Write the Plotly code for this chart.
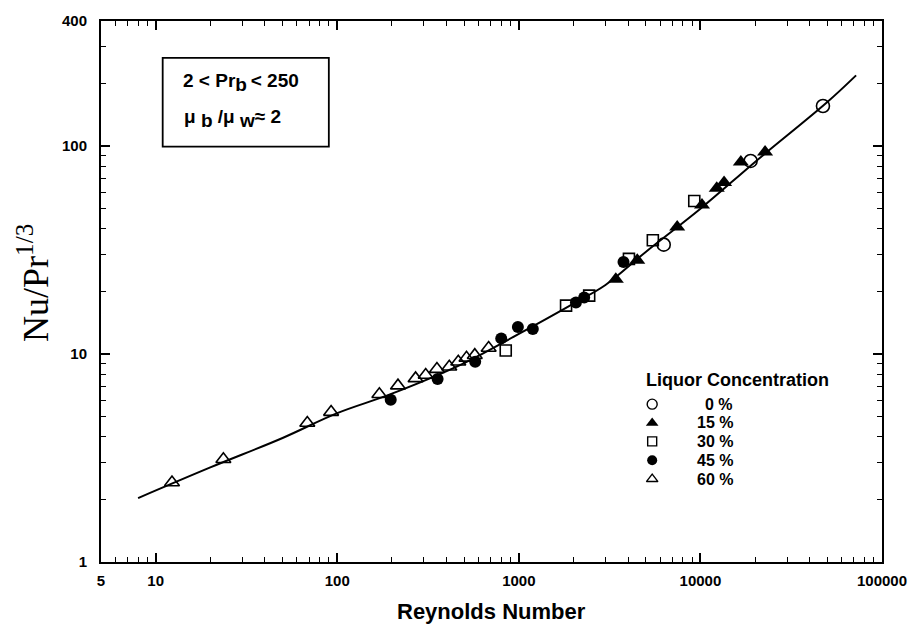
import math
import plotly.graph_objects as go

# Reynolds number and Nu/Pr^(1/3) for each liquor concentration
re_0 = [6280, 18900, 47300]
nu_0 = [33.6, 84.9, 156]

re_15 = [3420, 4490, 7450, 10200, 12300, 13500, 16700, 22700]
nu_15 = [22.9, 28.3, 40.8, 52.2, 62.7, 66.9, 84.0, 93.7]

re_30 = [847, 1820, 2440, 4040, 5470, 9250]
nu_30 = [10.4, 17.1, 19.1, 28.7, 35.3, 54.5]

re_45 = [197, 357, 575, 800, 988, 1194, 2063, 2290, 3770]
nu_45 = [6.03, 7.59, 9.18, 11.9, 13.5, 13.2, 17.7, 18.7, 27.7]

re_60 = [12.3, 23.6, 68.4, 92.5, 170.6, 216, 270, 307, 354, 414, 464, 515, 572, 682]
nu_60 = [2.41, 3.12, 4.66, 5.26, 6.41, 7.05, 7.64, 7.93, 8.47, 8.69, 9.18, 9.59, 9.88, 10.7]

# Correlation curve through the data
re_fit = [8, 20, 50, 100, 200, 500, 1000, 2000, 3000, 5000, 10000, 20000, 50000, 72000]
nu_fit = [2.03, 2.85, 3.95, 5.2, 6.45, 9.05, 12.5, 17.5, 21.5, 31, 50, 84, 163, 219]

concentrations = ["0 %", "15 %", "30 %", "45 %", "60 %"]

x_tick_vals = [5, 10, 100, 1000, 10000, 100000]
x_tick_text = ["5", "10", "100", "1000", "10000", "100000"]
y_tick_vals = [1, 10, 100, 400]
y_tick_text = ["1", "10", "100", "400"]

SANS = "Liberation Sans"
SERIF = "Liberation Serif"

x_minor = [m * 10 ** d for d in range(0, 5) for m in range(2, 10) if 5 < m * 10 ** d < 100000]
y_minor = [m * 10 ** d for d in range(0, 3) for m in range(2, 10) if m * 10 ** d < 400]

# plot area in pixels, used to place the key and the note box
L, R, T, B = 101, 886, 16, 562


def px_x(p):
    return (p - L) / (R - L)


def px_y(p):
    return (B - p) / (B - T)


fig = go.Figure()

fig.add_trace(go.Scatter(
    x=re_fit, y=nu_fit, mode="lines",
    line=dict(color="black", width=2, shape="spline", smoothing=1.0),
    showlegend=False, hoverinfo="skip",
))

styles = [
    ("circle-open", 13, 1.6, 10),
    ("triangle-up", 14, 0, 11),
    ("square-open", 11, 1.6, 9),
    ("circle", 12, 0, 10),
    ("triangle-up-open", 13, 1.6, 10),
]
data = [(re_0, nu_0), (re_15, nu_15), (re_30, nu_30), (re_45, nu_45), (re_60, nu_60)]

for (xs, ys), (sym, size, lw, _), name in zip(data, styles, concentrations):
    fig.add_trace(go.Scatter(
        x=xs, y=ys, mode="markers", name=name, showlegend=False,
        marker=dict(symbol=sym, size=size, color="black",
                    line=dict(color="black", width=lw)),
    ))

# Key: symbols on an overlay axis spanning the plot area, labels as annotations
key_rows = [402.7, 421.7, 440.3, 459.3, 478.3]
key_font = dict(family=SANS, size=16, color="black", weight="bold")
for (sym, _, lw, ksize), name, row in zip(styles, concentrations, key_rows):
    fig.add_trace(go.Scatter(
        x=[px_x(655)], y=[px_y(row)], xaxis="x2", yaxis="y2",
        mode="markers", showlegend=False, hoverinfo="skip",
        marker=dict(symbol=sym, size=ksize, color="black",
                    line=dict(color="black", width=min(lw, 1.4))),
    ))
    fig.add_annotation(
        xref="paper", yref="paper", x=px_x(738), y=px_y(row),
        xanchor="right", yanchor="middle", text=name,
        showarrow=False, font=key_font,
    )
fig.add_annotation(
    xref="paper", yref="paper", x=px_x(647), y=px_y(378),
    xanchor="left", yanchor="middle", text="Liquor Concentration",
    showarrow=False, font=dict(family=SANS, size=18, color="black", weight="bold"),
)

axis_common = dict(
    type="log", showline=True, linewidth=2, linecolor="black",
    mirror="allticks", ticks="inside", tickwidth=1.5, tickcolor="black",
    showgrid=False, zeroline=False,
    tickfont=dict(family=SANS, size=15, color="black", weight="bold"),
)

fig.update_xaxes(
    range=[math.log10(5), 5], tickmode="array",
    tickvals=x_tick_vals, ticktext=x_tick_text, ticklen=9,
    minor=dict(ticks="inside", ticklen=5, tickwidth=1, tickcolor="black",
               tickvals=x_minor, showgrid=False),
    ticklabelstandoff=4,
    **axis_common,
)
fig.update_yaxes(
    range=[0, math.log10(400)], tickmode="array",
    tickvals=y_tick_vals, ticktext=y_tick_text, ticklen=9,
    minor=dict(ticks="inside", ticklen=5, tickwidth=1, tickcolor="black",
               tickvals=y_minor, showgrid=False),
    ticklabelstandoff=9,
    **axis_common,
)

# Property-range note in the upper left
fig.add_shape(type="rect", xref="paper", yref="paper",
              x0=px_x(163), x1=px_x(330), y0=px_y(142.7), y1=px_y(53.3),
              line=dict(color="black", width=1.8))
box_font = dict(family=SANS, size=19, color="black", weight="bold")
sub = "<sub><span style='font-size:19px'>{}</span></sub>"
fig.add_annotation(
    xref="paper", yref="paper", x=px_x(181), y=px_y(78), xanchor="left", yanchor="middle",
    text="2 &lt; Pr" + sub.format("b") + "\u2009&lt; 250",
    showarrow=False, font=box_font,
)
fig.add_annotation(
    xref="paper", yref="paper", x=px_x(182), y=px_y(114), xanchor="left", yanchor="middle",
    text="\u03bc" + sub.format(" b") + " /\u03bc" + sub.format(" w") + "\u2248 2",
    showarrow=False, font=box_font,
)

# Axis titles
fig.add_annotation(
    xref="paper", yref="paper", x=0.4994, y=px_y(612), xanchor="center", yanchor="middle",
    text="Reynolds Number", showarrow=False,
    font=dict(family=SANS, size=22, color="black", weight="bold"),
)
fig.add_annotation(
    xref="paper", yref="paper", x=px_x(33), y=px_y(280), xanchor="center", yanchor="middle",
    text="Nu/Pr<sup>1/3</sup>", textangle=-90, showarrow=False,
    font=dict(family=SERIF, size=36, color="black"),
)

fig.update_layout(
    width=919, height=631,
    margin=dict(l=L, r=919 - R, t=T, b=631 - B),
    paper_bgcolor="white", plot_bgcolor="white",
    font=dict(family=SANS, color="black"),
    showlegend=False,
    xaxis2=dict(overlaying="x", range=[0, 1], visible=False, fixedrange=True),
    yaxis2=dict(overlaying="y", range=[0, 1], visible=False, fixedrange=True),
)

fig.write_html("out.html")
